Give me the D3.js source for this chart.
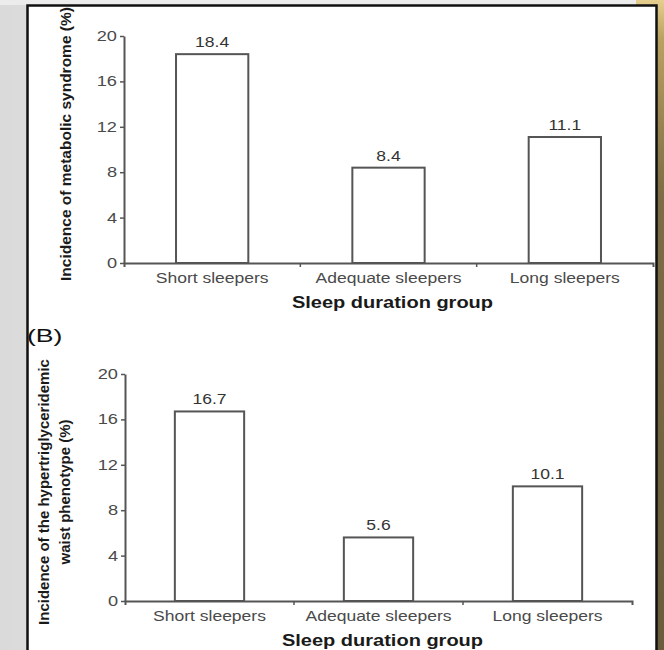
<!DOCTYPE html>
<html>
<head>
<meta charset="utf-8">
<script src="https://cdn.jsdelivr.net/npm/d3@7"></script>
<style>
  html, body { margin: 0; padding: 0; background: #fff; }
  svg { display: block; font-family: "Liberation Sans", Arial, sans-serif; }
</style>
</head>
<body>
<div id="chart"></div>
<script>
const categories = ['Short sleepers', 'Adequate sleepers', 'Long sleepers']
const metabolicValues = [18.4, 8.4, 11.1]
const waistValues = [16.7, 5.6, 10.1]
const yTicks = [0, 4, 8, 12, 16, 20]
const xTitle = 'Sleep duration group'

const width = 664
const height = 650
// the source picture is stretched sideways a bit
const stretch = 1.25

const svg = d3.select('#chart')
   .append('svg')
   .attr('width', width)
   .attr('height', height)

// ---- frame / backdrop ----
const defs = svg.append('defs')
const lg = defs.append('linearGradient').attr('id', 'leftBg')
lg.append('stop').attr('offset', '0%').attr('stop-color', '#dadada')
lg.append('stop').attr('offset', '60%').attr('stop-color', '#efefef')
lg.append('stop').attr('offset', '100%').attr('stop-color', '#e0e0e0')
const rg = defs.append('linearGradient').attr('id', 'rightBg')
   .attr('x1', 0).attr('y1', 0).attr('x2', 0).attr('y2', 1)
rg.append('stop').attr('offset', '0%').attr('stop-color', '#e6cf8e')
rg.append('stop').attr('offset', '6%').attr('stop-color', '#b9a160')
rg.append('stop').attr('offset', '30%').attr('stop-color', '#7d6c45')
rg.append('stop').attr('offset', '100%').attr('stop-color', '#6a5c3c')

svg.append('rect').attr('width', width).attr('height', height).attr('fill', 'url(#leftBg)')
svg.append('rect').attr('x', 0).attr('y', 0).attr('width', width).attr('height', 5).attr('fill', '#ececec')
svg.append('rect').attr('x', 636).attr('y', 0).attr('width', 28).attr('height', height).attr('fill', 'url(#rightBg)')
svg.append('rect').attr('x', 27).attr('y', 5).attr('width', 630).attr('height', height).attr('fill', '#fff')
svg.append('path')
   .attr('d', 'M27.5,650V5.5H656.5V650')
   .attr('fill', 'none').attr('stroke', '#111').attr('stroke-width', 2.5)

const stretchText = (sel, k) => {
   sel.each(function () {
      const w = this.getComputedTextLength()
      d3.select(this).attr('textLength', w * k).attr('lengthAdjust', 'spacingAndGlyphs')
   })
}

function drawPanel(opts) {
   const { values, xRange, yRange, yTitleLines, yTitleX, yTitleY, yTitleSize } = opts
   const g = svg.append('g')

   const x = d3.scaleBand().domain(categories).range(xRange).paddingInner(0.59).paddingOuter(0.295)
   const y = d3.scaleLinear().domain([0, 20]).range(yRange)

   // bars
   g.selectAll('rect.bar')
      .data(values)
      .enter()
      .append('rect')
      .attr('class', 'bar')
      .attr('x', (d, i) => x(categories[i]))
      .attr('y', d => y(d))
      .attr('width', x.bandwidth())
      .attr('height', d => y(0) - y(d))
      .attr('fill', '#fff')
      .attr('stroke', '#555')
      .attr('stroke-width', 2)

   g.selectAll('text.val')
      .data(values)
      .enter()
      .append('text')
      .attr('class', 'val')
      .attr('x', (d, i) => x(categories[i]) + x.bandwidth() / 2)
      .attr('y', d => y(d) - 7)
      .attr('text-anchor', 'middle')
      .attr('font-size', 14)
      .attr('fill', '#333')
      .text(d => d.toFixed(1))
      .call(stretchText, stretch)

   // y axis
   const yAxis = g.append('g')
      .attr('transform', `translate(${xRange[0]},0)`)
      .call(d3.axisLeft(y).tickValues(yTicks).tickSize(4).tickSizeOuter(0).tickPadding(3))
   yAxis.select('.domain').attr('stroke', '#555').attr('stroke-width', 2)
   yAxis.selectAll('.tick line').attr('stroke', '#555').attr('stroke-width', 1.5)
   yAxis.selectAll('.tick text')
      .attr('font-size', 14).attr('fill', '#4a4a4a').attr('font-family', null)
      .call(stretchText, 1.3)

   // x axis (ticks sit between the groups)
   const xAxis = g.append('g')
      .attr('transform', `translate(0,${yRange[0]})`)
      .call(d3.axisBottom(x).tickSize(0).tickSizeOuter(4).tickPadding(10))
   xAxis.select('.domain').attr('stroke', '#555').attr('stroke-width', 2)
   xAxis.selectAll('.tick text')
      .attr('font-size', 14).attr('fill', '#4a4a4a').attr('font-family', null)
      .call(stretchText, stretch)
   xAxis.selectAll('line.sep')
      .data(categories.slice(1))
      .enter()
      .append('line')
      .attr('class', 'sep')
      .attr('x1', d => x(d) - x.step() * x.paddingInner() / 2)
      .attr('x2', d => x(d) - x.step() * x.paddingInner() / 2)
      .attr('y1', 0).attr('y2', 4)
      .attr('stroke', '#555').attr('stroke-width', 1.5)

   g.append('text')
      .attr('x', (xRange[0] + xRange[1]) / 2 + 4)
      .attr('y', yRange[0] + 45)
      .attr('text-anchor', 'middle')
      .attr('font-size', 16)
      .attr('font-weight', 'bold')
      .attr('fill', '#1a1a1a')
      .text(xTitle)
      .call(stretchText, stretch)

   const yt = g.append('text')
      .attr('transform', `translate(${yTitleX},${yTitleY}) rotate(-90)`)
      .attr('text-anchor', 'middle')
      .attr('font-size', yTitleSize)
      .attr('font-weight', 'bold')
      .attr('fill', '#1a1a1a')
   yTitleLines.forEach((t, i) => {
      yt.append('tspan')
         .attr('x', 0)
         .attr('dy', i === 0 ? 0 : 21)
         .text(t)
   })
}

drawPanel({
   values: metabolicValues,
   xRange: [124, 653],
   yRange: [263, 36],
   yTitleLines: ['Incidence of metabolic syndrome (%)'],
   yTitleX: 71,
   yTitleY: 144,
   yTitleSize: 15.5,
})

drawPanel({
   values: waistValues,
   xRange: [125, 632],
   yRange: [601, 374],
   yTitleLines: ['Incidence of the hypertriglyceridemic', 'waist phenotype (%)'],
   yTitleX: 49,
   yTitleY: 492,
   yTitleSize: 15,
})

svg.append('text')
   .attr('x', 27)
   .attr('y', 342)
   .attr('font-size', 19)
   .attr('fill', '#111')
   .text('(B)')
   .call(stretchText, 1.4)
</script>
</body>
</html>
